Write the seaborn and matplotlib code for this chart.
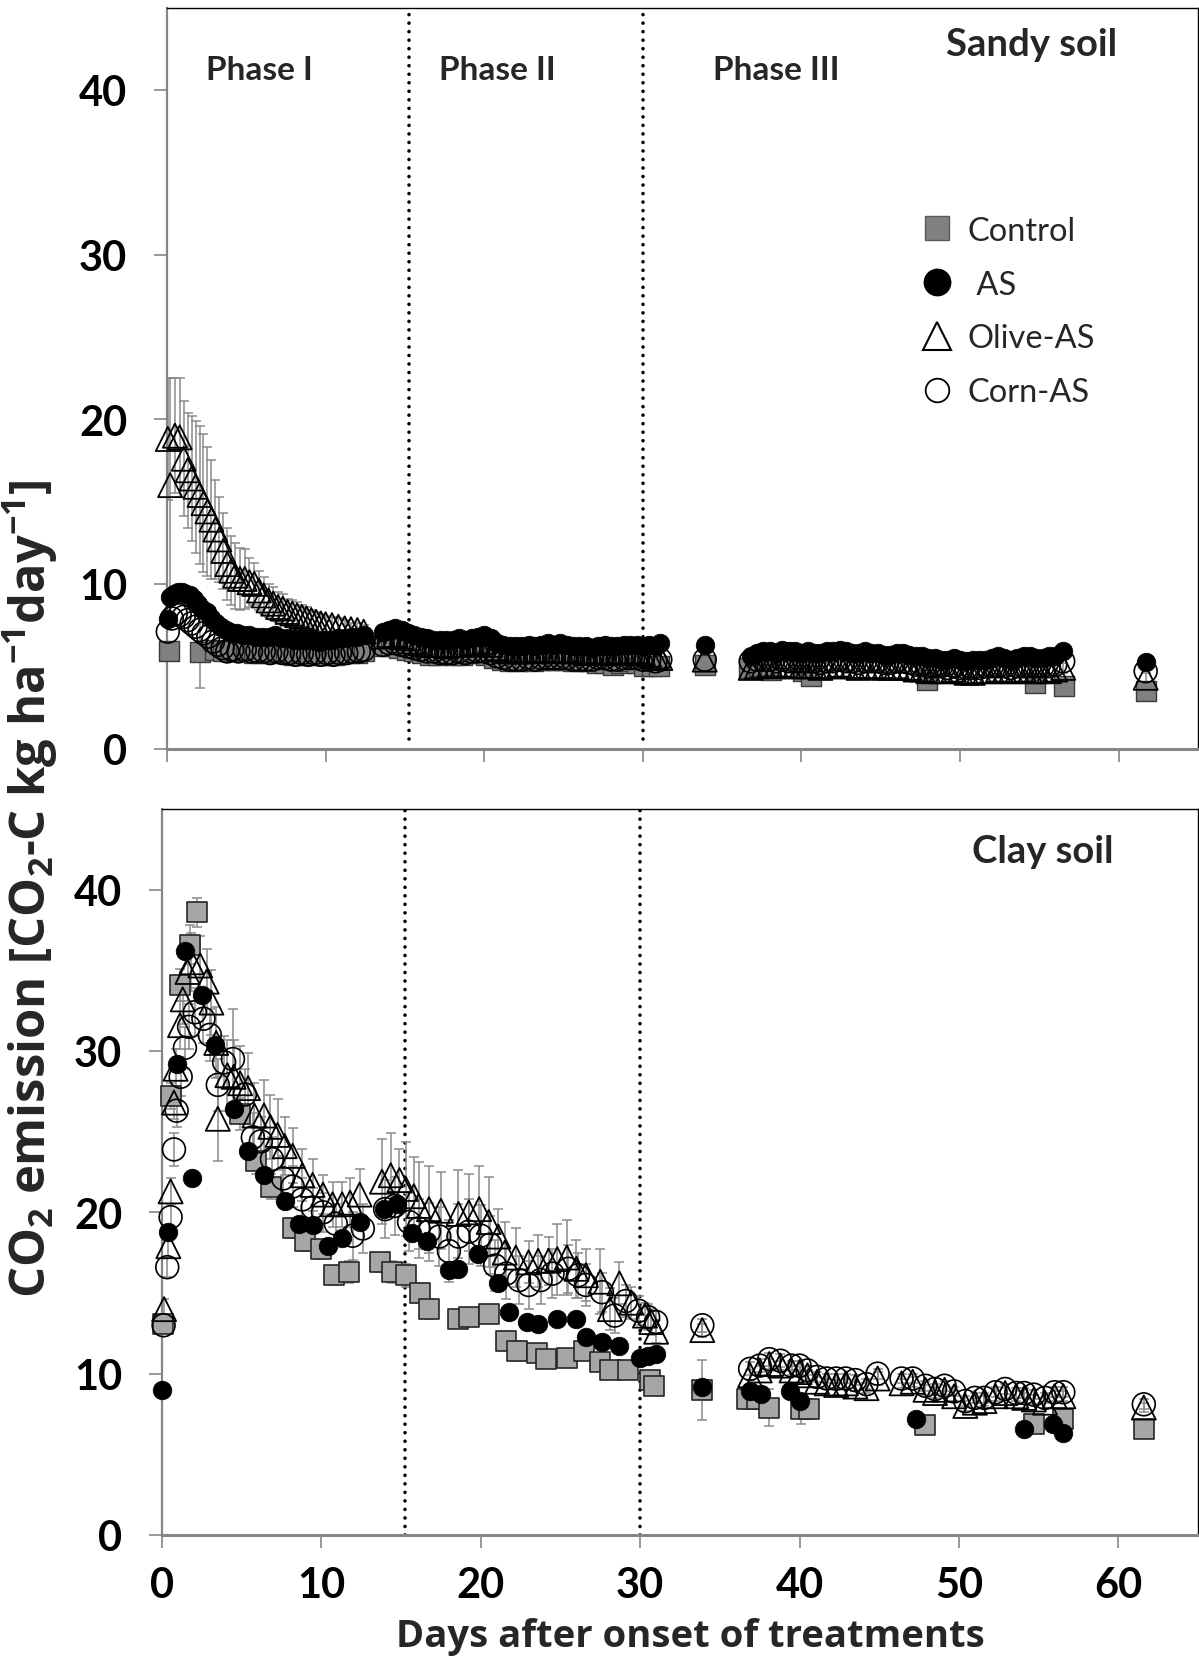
import numpy as np
import pandas as pd
import matplotlib
matplotlib.use("Agg")
import matplotlib.pyplot as plt
from matplotlib.lines import Line2D
import seaborn as sns

# ---------------- data ----------------
x_ticks = [0, 10, 20, 30, 40, 50, 60]
y_ticks = [0, 10, 20, 30, 40]
phase_bounds = [15.25, 30.0]
phase_names = ["Phase I", "Phase II", "Phase III"]
phase_label_x = [5.8, 20.8, 38.4]
series_names = ["Control", "AS", "Olive-AS", "Corn-AS"]

# ---- Sandy soil ----
sandy_control_t = [0.1, 2.1, 3.0, 3.5, 4.0, 4.5, 5.0, 5.5, 6.0, 6.5, 7.0, 7.5, 8.0, 8.5, 9.0, 9.5, 10.0, 10.5, 11.0, 11.5, 12.0, 12.4,
                   13.6, 14.1, 14.6, 15.1, 15.6, 16.1, 16.6, 17.1, 17.6, 18.1, 18.6, 19.1, 19.6, 20.1, 20.6, 21.1, 21.6, 22.1,
                   22.6, 23.1, 23.6, 24.1, 24.6, 25.1, 25.6, 26.1, 26.6, 27.1, 27.6, 28.1, 28.6, 29.1, 29.6, 30.1, 30.6, 31.0,
                   33.9, 36.7, 37.3, 38.1, 40.1, 40.6, 47.9, 54.7, 56.55, 61.7]
sandy_control_y = [5.9, 5.85, 6.0, 5.9, 5.9, 6.0, 5.9, 5.8, 5.8, 5.9, 5.8, 5.8, 5.7, 5.7, 5.7, 5.7, 5.7, 5.7, 5.8, 5.8, 5.8, 5.9,
                   6.2, 6.2, 6.1, 6.0, 5.9, 5.8, 5.7, 5.7, 5.8, 5.7, 5.7, 5.8, 5.8, 5.7, 5.5, 5.4, 5.3, 5.3,
                   5.4, 5.3, 5.4, 5.4, 5.4, 5.4, 5.3, 5.3, 5.3, 5.2, 5.2, 5.1, 5.2, 5.3, 5.2, 5.0, 5.0, 5.0,
                   5.1, 4.9, 5.0, 4.8, 4.7, 4.4, 4.15, 4.0, 3.8, 3.5]
sandy_control_err = [0.4, 2.2, 0.4, 0.3, 0.3, 0.3, 0.3, 0.3, 0.3, 0.3, 0.3, 0.3, 0.3, 0.3, 0.3, 0.3, 0.3, 0.3, 0.3, 0.3, 0.3, 0.3,
                     0.3, 0.3, 0.3, 0.3, 0.3, 0.3, 0.3, 0.3, 0.3, 0.3, 0.3, 0.3, 0.3, 0.3, 0.3, 0.3, 0.3, 0.3,
                     0.3, 0.3, 0.3, 0.3, 0.3, 0.3, 0.3, 0.3, 0.3, 0.3, 0.3, 0.3, 0.3, 0.3, 0.3, 0.3, 0.3, 0.3,
                     0.4, 0.3, 0.3, 0.3, 0.3, 0.3, 0.2, 0.2, 0.3, 0.2]

sandy_t_p2 = [13.6, 14.0, 14.4, 14.8, 15.2, 15.6, 16.0, 16.4, 16.8, 17.2, 17.6, 18.0, 18.4, 18.8, 19.2,
              19.6, 20.0, 20.4, 20.8, 21.2, 21.6, 22.0, 22.4, 22.8, 23.2, 23.6, 24.0, 24.4, 24.8, 25.2,
              25.6, 26.0, 26.4, 26.8, 27.2, 27.6, 28.0, 28.4, 28.8, 29.2, 29.6, 30.0, 30.4, 30.8, 31.1]
sandy_t_p3 = [33.9, 36.8, 37.2, 37.6, 38.0, 38.4, 38.8, 39.2, 39.6, 40.0, 40.4, 40.8, 41.2, 41.6, 42.0, 42.4,
              42.8, 43.2, 43.6, 44.0, 44.4, 44.8, 45.2, 45.6, 46.0, 46.4, 46.8, 47.2, 47.6, 48.0, 48.4,
              48.8, 49.2, 49.6, 50.0, 50.4, 50.8, 51.2, 51.6, 52.0, 52.4, 52.8, 53.2, 53.6, 54.0, 54.4,
              54.8, 55.2, 55.6, 56.0, 56.5, 61.7]

sandy_as_t_p1 = [0.05, 0.2, 0.45, 0.7, 0.95, 1.2, 1.45, 1.7, 1.95, 2.2, 2.5, 2.8, 3.1, 3.4, 3.7, 4.0, 4.4, 4.8, 5.2,
                 5.6, 6.0, 6.4, 6.8, 7.2, 7.6, 8.0, 8.4, 8.8, 9.2, 9.6, 10.0, 10.4, 10.8, 11.2, 11.6, 12.0, 12.4]
sandy_as_y_p1 = [7.85, 9.2, 9.4, 9.5, 9.5, 9.4, 9.3, 9.1, 8.8, 8.5, 8.3, 7.9, 7.6, 7.4, 7.2, 7.1, 7.0, 6.9, 6.9,
                 6.8, 6.8, 6.8, 6.9, 6.7, 6.7, 6.6, 6.6, 6.6, 6.6, 6.5, 6.6, 6.6, 6.7, 6.7, 6.8, 6.8, 6.9]
sandy_as_y_p2 = [7.1, 7.2, 7.3, 7.2, 7.0, 6.9, 6.8, 6.7, 6.6, 6.6, 6.6, 6.6, 6.7, 6.6, 6.7,
                 6.8, 6.9, 6.7, 6.4, 6.3, 6.2, 6.2, 6.2, 6.3, 6.2, 6.3, 6.4, 6.3, 6.4, 6.3,
                 6.2, 6.2, 6.2, 6.1, 6.2, 6.3, 6.2, 6.2, 6.3, 6.3, 6.3, 6.2, 6.3, 6.2, 6.4]
sandy_as_y_p3 = [6.3, 5.6, 5.8, 5.9, 5.9, 5.8, 6.0, 5.9, 5.9, 5.8, 5.9, 5.8, 5.8, 5.9, 5.9, 6.0,
                 5.9, 5.8, 5.8, 5.9, 5.8, 5.8, 5.7, 5.7, 5.8, 5.8, 5.7, 5.6, 5.6, 5.5, 5.5,
                 5.4, 5.4, 5.5, 5.4, 5.3, 5.4, 5.4, 5.4, 5.5, 5.6, 5.5, 5.4, 5.5, 5.6, 5.6,
                 5.5, 5.5, 5.6, 5.6, 5.9, 5.25]

sandy_olive_t_p1 = [0.05, 0.2, 0.5, 0.8, 1.05, 1.3, 1.55, 1.8, 2.05, 2.3, 2.55, 2.8, 3.05, 3.3, 3.55,
                    3.8, 4.05, 4.3, 4.6, 4.9, 5.2, 5.5, 5.8, 6.1, 6.4, 6.7, 7.0, 7.3, 7.6, 7.9,
                    8.2, 8.5, 8.8, 9.1, 9.4, 9.7, 10.0, 10.4, 10.8, 11.2, 11.6, 12.0, 12.4]
sandy_olive_y_p1 = [18.8, 16.0, 19.0, 18.9, 17.6, 16.9, 16.4, 15.9, 15.4, 14.9, 14.4, 13.9, 13.3, 12.7, 12.0,
                    11.2, 10.8, 10.5, 10.3, 10.3, 10.1, 10.0, 9.6, 9.3, 9.0, 8.8, 8.6, 8.5, 8.3, 8.2,
                    8.1, 8.0, 7.9, 7.8, 7.7, 7.6, 7.55, 7.5, 7.4, 7.3, 7.25, 7.2, 7.1]
sandy_olive_err_p1 = [3.7, 6.5, 3.5, 3.6, 3.5, 3.5, 3.8, 4.0, 4.2, 4.2, 3.9, 3.6, 3.0, 2.6, 2.3,
                      2.2, 2.1, 2.0, 1.9, 1.8, 1.5, 1.3, 1.2, 1.1, 1.0, 1.0, 0.9, 0.9, 0.8, 0.8,
                      0.8, 0.7, 0.7, 0.6, 0.6, 0.6, 0.5, 0.5, 0.5, 0.5, 0.4, 0.4, 0.4]
sandy_olive_y_p2 = [6.8, 6.9, 6.9, 6.8, 6.7, 6.5, 6.4, 6.3, 6.3, 6.3, 6.2, 6.3, 6.3, 6.3, 6.4,
                    6.4, 6.5, 6.3, 6.1, 6.0, 5.9, 5.9, 5.9, 6.0, 5.9, 6.0, 6.0, 5.9, 6.0, 6.0,
                    5.9, 5.9, 5.8, 5.8, 5.9, 5.9, 5.8, 5.8, 5.9, 5.9, 5.9, 5.8, 5.7, 5.6, 5.5]
sandy_olive_err_p2 = [0.5, 0.5, 0.5, 0.5, 0.45, 0.45, 0.45, 0.45, 0.45, 0.45, 0.45, 0.45, 0.45, 0.45, 0.45,
                      0.45, 0.45, 0.45, 0.45, 0.45, 0.45, 0.45, 0.45, 0.45, 0.45, 0.45, 0.45, 0.45, 0.45, 0.45,
                      0.4, 0.4, 0.4, 0.4, 0.4, 0.4, 0.4, 0.4, 0.4, 0.4, 0.4, 0.4, 0.4, 0.4, 0.4]
sandy_olive_y_p3 = [5.4, 4.9, 5.0, 5.0, 5.1, 5.0, 5.1, 5.0, 5.0, 5.0, 5.0, 5.0, 4.9, 5.0, 5.0, 5.1,
                    5.0, 5.0, 4.9, 5.0, 5.0, 5.0, 4.9, 4.9, 5.0, 4.9, 4.9, 4.8, 4.8, 4.7, 4.7,
                    4.7, 4.7, 4.8, 4.7, 4.6, 4.6, 4.7, 4.7, 4.7, 4.8, 4.7, 4.7, 4.7, 4.8, 4.7,
                    4.7, 4.7, 4.7, 4.8, 4.9, 4.3]
sandy_olive_err_p3 = [0.3, 0.3, 0.3, 0.3, 0.3, 0.3, 0.3, 0.3, 0.3, 0.3, 0.3, 0.3, 0.3, 0.3, 0.3, 0.3,
                      0.3, 0.3, 0.3, 0.3, 0.3, 0.3, 0.3, 0.3, 0.3, 0.3, 0.3, 0.3, 0.3, 0.3, 0.3,
                      0.3, 0.3, 0.3, 0.3, 0.3, 0.3, 0.3, 0.3, 0.3, 0.3, 0.3, 0.3, 0.3, 0.3, 0.3,
                      0.3, 0.3, 0.3, 0.3, 0.3, 0.3]

sandy_corn_t_p1 = [0.05, 0.3, 0.55, 0.8, 1.05, 1.3, 1.55, 1.8, 2.05, 2.3, 2.6, 2.9, 3.2, 3.5, 3.8, 4.1, 4.5, 4.9, 5.3,
                   5.7, 6.1, 6.5, 6.9, 7.3, 7.7, 8.1, 8.5, 8.9, 9.3, 9.7, 10.1, 10.5, 10.9, 11.3, 11.7, 12.1, 12.4]
sandy_corn_y_p1 = [7.1, 7.9, 8.2, 8.1, 8.0, 7.8, 7.6, 7.4, 7.2, 7.0, 6.8, 6.5, 6.3, 6.1, 5.9, 6.0, 5.9, 6.0, 5.9,
                   5.9, 5.9, 5.8, 5.9, 5.8, 5.8, 5.7, 5.8, 5.7, 5.8, 5.7, 5.8, 5.7, 5.8, 5.8, 5.9, 5.9, 6.0]
sandy_corn_y_p2 = [6.3, 6.4, 6.4, 6.3, 6.2, 6.1, 6.0, 5.9, 5.9, 5.8, 5.8, 5.8, 5.9, 5.8, 5.9,
                   5.9, 5.9, 5.8, 5.6, 5.5, 5.4, 5.4, 5.4, 5.5, 5.4, 5.5, 5.5, 5.5, 5.5, 5.5,
                   5.4, 5.4, 5.4, 5.4, 5.5, 5.5, 5.4, 5.4, 5.5, 5.5, 5.5, 5.4, 5.4, 5.3, 5.4]
sandy_corn_y_p3 = [5.4, 5.3, 5.4, 5.4, 5.4, 5.3, 5.4, 5.3, 5.3, 5.3, 5.3, 5.3, 5.2, 5.3, 5.3, 5.4,
                   5.3, 5.3, 5.2, 5.3, 5.3, 5.3, 5.2, 5.2, 5.3, 5.3, 5.2, 5.1, 5.1, 5.0, 5.0,
                   5.0, 4.9, 5.0, 4.9, 4.9, 4.9, 4.9, 5.0, 5.0, 5.0, 5.0, 4.9, 5.0, 5.0, 5.0,
                   5.0, 5.0, 5.0, 5.1, 5.3, 4.7]

# ---- Clay soil ----
clay_control_t = [0.08, 0.54, 1.12, 1.75, 2.17, 4.9, 5.9, 6.85, 8.2, 9.0,
                  10.0, 10.8, 11.75, 13.7, 14.4, 15.3, 16.2, 16.75, 18.6, 19.25,
                  20.5, 21.6, 22.3, 23.5, 24.1, 25.4, 26.5, 27.5, 28.1, 29.25,
                  30.6, 30.9, 33.9, 36.7, 37.3, 38.1, 40.1, 40.6, 47.9, 54.7,
                  56.55, 61.6]
clay_control_y = [13.1, 27.2, 34.1, 36.6, 38.6, 26.1, 23.2, 21.6, 19.0, 18.2,
                  17.7, 16.1, 16.3, 16.9, 16.3, 16.1, 15.0, 14.0, 13.4, 13.5,
                  13.7, 12.05, 11.4, 11.3, 10.9, 11.0, 11.4, 10.7, 10.2, 10.2,
                  9.6, 9.25, 9.0, 8.4, 8.4, 7.9, 7.8, 7.8, 6.8, 6.9,
                  7.2, 6.55]
clay_control_err = [0.5, 0.8, 1.0, 1.2, 0.9, 1.0, 0.8, 0.8, 0.6, 0.6,
                    0.6, 0.6, 0.7, 0.6, 0.7, 0.7, 0.6, 0.6, 0.5, 0.5,
                    0.5, 0.6, 0.6, 0.5, 0.5, 0.5, 0.5, 0.5, 0.5, 0.5,
                    0.5, 0.6, 1.85, 0.6, 0.6, 1.15, 0.9, 0.6, 0.3, 0.3,
                    0.3, 0.2]

clay_as_t = [0.0, 0.4, 0.96, 1.44, 1.9, 2.5, 3.3, 4.5, 5.4, 6.4,
             7.7, 8.6, 9.45, 10.4, 11.3, 12.4, 13.9, 14.75, 15.7, 16.6,
             18.0, 18.6, 19.8, 21.1, 21.75, 22.9, 23.6, 24.8, 26.0, 26.6,
             27.6, 28.7, 30.0, 30.5, 31.0, 33.9, 36.9, 37.6, 39.4, 40.0,
             47.3, 54.1, 55.9, 56.5]
clay_as_y = [9.0, 18.8, 29.2, 36.2, 22.1, 33.5, 30.4, 26.4, 23.8, 22.3,
             20.7, 19.3, 19.2, 17.9, 18.4, 19.4, 20.2, 20.5, 18.7, 18.25,
             16.4, 16.5, 17.4, 15.6, 13.85, 13.2, 13.1, 13.4, 13.4, 12.25,
             11.95, 11.7, 11.0, 11.1, 11.2, 9.2, 8.95, 8.75, 8.95, 8.3,
             7.2, 6.6, 6.9, 6.3]

clay_olive_t = [0.13, 0.4, 0.54, 0.75, 0.85, 1.13, 1.3, 1.6, 1.85, 2.4,
                2.8, 3.1, 3.4, 3.5, 4.1, 4.5, 4.9, 5.4, 5.8, 6.4,
                6.8, 7.25, 7.7, 8.2, 8.8, 9.45, 10.1, 10.7, 11.3, 11.8,
                12.4, 13.8, 14.35, 14.9, 15.3, 15.8, 16.1, 16.75, 17.5, 18.6,
                19.25, 19.9, 20.5, 21.1, 21.5, 22.2, 23.0, 23.6, 24.25, 24.8,
                25.4, 26.0, 26.6, 27.5, 28.1, 28.7, 29.45, 30.3, 30.7, 31.0,
                33.9, 36.9, 37.5, 38.1, 38.8, 39.5, 40.0, 40.5, 41.1, 41.7,
                42.3, 42.9, 43.5, 44.2, 44.9, 46.4, 47.1, 47.9, 48.5, 49.1,
                49.7, 50.4, 51.0, 51.6, 52.3, 52.9, 53.6, 54.1, 54.7, 55.4,
                56.0, 56.55, 61.6]
clay_olive_y = [14.0, 17.9, 21.3, 26.8, 28.9, 31.6, 33.2, 34.9, 35.5, 35.3,
                34.3, 33.0, 30.5, 25.8, 28.5, 28.4, 28.0, 27.7, 26.0, 26.0,
                25.3, 24.8, 24.1, 23.5, 22.3, 21.7, 21.1, 20.5, 20.5, 20.6,
                21.1, 21.9, 22.3, 22.0, 21.45, 21.0, 20.4, 20.2, 20.1, 19.9,
                20.0, 20.2, 19.4, 18.5, 17.5, 17.2, 16.9, 17.0, 17.0, 17.1,
                17.2, 16.5, 16.1, 15.7, 14.0, 15.6, 14.4, 13.6, 13.2, 12.6,
                12.7, 9.9, 10.2, 10.6, 10.5, 10.2, 10.1, 9.9, 9.5, 9.4,
                9.3, 9.4, 9.2, 9.1, 9.7, 9.4, 9.5, 9.0, 8.8, 9.0,
                8.6, 8.0, 8.2, 8.3, 8.6, 8.8, 8.6, 8.5, 8.4, 8.2,
                8.6, 8.6, 7.9]
clay_olive_err = [0.6, 0.7, 0.8, 1.0, 1.2, 1.5, 1.5, 1.8, 1.8, 1.8,
                  2.0, 2.0, 2.2, 2.6, 2.2, 2.3, 2.3, 2.2, 2.0, 2.2,
                  2.0, 2.2, 1.8, 1.7, 1.6, 1.6, 1.2, 1.4, 1.4, 1.5,
                  1.6, 2.65, 2.6, 1.9, 2.9, 2.4, 2.7, 2.7, 2.4, 2.7,
                  2.4, 2.7, 2.8, 1.7, 1.9, 1.8, 1.3, 1.6, 1.5, 2.2,
                  2.3, 1.8, 1.6, 2.0, 1.3, 1.3, 1.0, 0.8, 0.8, 0.7,
                  0.4, 0.3, 0.3, 0.3, 0.3, 0.3, 0.3, 0.3, 0.3, 0.3,
                  0.3, 0.3, 0.3, 0.3, 0.4, 0.3, 0.3, 0.3, 0.3, 0.3,
                  0.3, 0.3, 0.3, 0.3, 0.3, 0.3, 0.3, 0.3, 0.3, 0.3,
                  0.3, 0.3, 0.3]

clay_corn_t = [0.1, 0.33, 0.54, 0.75, 0.92, 1.17, 1.44, 1.7, 2.06, 2.6,
               3.0, 3.5, 3.9, 4.45, 5.2, 5.7, 6.2, 6.9, 7.6, 8.2,
               8.8, 9.45, 10.1, 10.9, 11.96, 12.6, 14.0, 14.6, 15.5, 16.1,
               16.75, 17.4, 18.0, 18.6, 19.25, 20.0, 20.6, 20.9, 21.6, 22.4,
               23.0, 23.75, 24.5, 25.5, 26.1, 26.6, 27.6, 28.4, 29.1, 29.9,
               30.5, 31.0, 33.9, 36.9, 37.5, 38.1, 38.8, 39.5, 40.0, 40.5,
               41.1, 41.7, 42.3, 42.9, 43.5, 44.2, 44.9, 46.4, 47.1, 47.9,
               48.5, 49.1, 49.7, 50.4, 51.0, 51.6, 52.3, 52.9, 53.6, 54.1,
               54.7, 55.4, 56.0, 56.55, 61.6]
clay_corn_y = [13.0, 16.6, 19.7, 23.9, 26.3, 28.4, 30.2, 31.5, 32.4, 32.0,
               31.0, 27.9, 29.3, 29.5, 27.3, 24.65, 24.4, 23.3, 22.1, 21.6,
               20.8, 20.3, 20.0, 19.3, 18.55, 19.0, 20.2, 20.4, 19.4, 19.0,
               18.8, 18.5, 17.6, 18.5, 18.8, 18.55, 18.0, 16.7, 16.2, 15.8,
               15.5, 15.8, 16.2, 16.5, 16.1, 15.5, 15.05, 13.6, 14.5, 13.9,
               13.5, 13.2, 13.0, 10.3, 10.5, 10.9, 10.8, 10.5, 10.5, 10.2,
               9.8, 9.7, 9.7, 9.7, 9.6, 9.35, 10.0, 9.7, 9.7, 9.25,
               9.05, 9.25, 8.9, 8.3, 8.5, 8.5, 8.85, 9.05, 8.8, 8.8,
               8.7, 8.5, 8.85, 8.85, 8.1]
clay_corn_err = [0.5, 0.6, 0.8, 1.0, 1.0, 1.2, 1.3, 1.4, 1.5, 1.5,
                 1.6, 1.6, 1.6, 3.1, 1.6, 1.5, 1.5, 1.4, 1.4, 1.3,
                 1.3, 1.2, 1.2, 1.2, 1.5, 1.5, 1.8, 1.8, 1.8, 1.8,
                 1.8, 1.8, 1.9, 2.0, 2.0, 1.9, 1.8, 1.6, 1.6, 1.5,
                 1.5, 1.5, 1.5, 1.5, 1.4, 1.3, 1.2, 1.1, 1.0, 0.9,
                 0.8, 0.7, 0.4, 0.4, 0.4, 0.4, 0.4, 0.3, 0.3, 0.3,
                 0.3, 0.3, 0.3, 0.3, 0.3, 0.3, 0.3, 0.3, 0.3, 0.3,
                 0.3, 0.3, 0.3, 0.3, 0.3, 0.3, 0.3, 0.3, 0.3, 0.3,
                 0.3, 0.3, 0.3, 0.3, 0.3]

# ---------------- style ----------------
sns.set_theme(style="white")
plt.rcParams["font.family"] = ["Lato", "DejaVu Sans"]
plt.rcParams["font.weight"] = "bold"
plt.rcParams["mathtext.fontset"] = "custom"
plt.rcParams["mathtext.rm"] = "Open Sans:bold"
plt.rcParams["mathtext.bf"] = "Open Sans:bold"
plt.rcParams["mathtext.it"] = "Open Sans:bold:italic"
plt.rcParams["mathtext.default"] = "rm"

STYLE = {
    "Control_top": dict(marker="s", s=200, fc="#808080", ec="#3a3a3a", lw=1.0, z=3),
    "Control_bot": dict(marker="s", s=200, fc="#a6a6a6", ec="#262626", lw=1.2, z=3),
    "AS": dict(marker="o", s=180, fc="black", ec="black", lw=0.5, z=4),
    "Olive-AS": dict(marker="^", s=300, fc="none", ec="black", lw=1.3, z=5),
    "Corn-AS": dict(marker="o", s=270, fc="none", ec="black", lw=1.2, z=6),
}
ERR_COLOR = "#8a8a8a"
AXIS_GREY = "#868686"


def draw_series(ax, t, y, err, key):
    st = STYLE[key]
    if err is not None:
        ax.errorbar(t, y, yerr=err, fmt="none", ecolor=ERR_COLOR, elinewidth=1.1,
                    capsize=3.6, capthick=1.1, zorder=1)
    df = pd.DataFrame({"t": t, "y": y})
    sns.scatterplot(data=df, x="t", y="y", ax=ax, marker=st["marker"], s=st["s"],
                    facecolor=st["fc"], edgecolor=st["ec"], linewidth=st["lw"],
                    zorder=st["z"], legend=False, clip_on=False)


fig = plt.figure(figsize=(11.99, 16.58), dpi=100)
ax1 = fig.add_axes([167 / 1199, 1 - 749.6 / 1658, 1031 / 1199, 741.1 / 1658])
ax2 = fig.add_axes([162 / 1199, 1 - 1536 / 1658, 1036 / 1199, 726 / 1658])

# ---- top panel: sandy soil ----
draw_series(ax1, sandy_control_t, sandy_control_y, sandy_control_err, "Control_top")
draw_series(ax1, sandy_as_t_p1 + sandy_t_p2 + sandy_t_p3,
            sandy_as_y_p1 + sandy_as_y_p2 + sandy_as_y_p3, None, "AS")
draw_series(ax1, sandy_olive_t_p1 + sandy_t_p2 + sandy_t_p3,
            sandy_olive_y_p1 + sandy_olive_y_p2 + sandy_olive_y_p3,
            sandy_olive_err_p1 + sandy_olive_err_p2 + sandy_olive_err_p3, "Olive-AS")
draw_series(ax1, sandy_corn_t_p1 + sandy_t_p2 + sandy_t_p3,
            sandy_corn_y_p1 + sandy_corn_y_p2 + sandy_corn_y_p3, None, "Corn-AS")

# ---- bottom panel: clay soil ----
draw_series(ax2, clay_control_t, clay_control_y, clay_control_err, "Control_bot")
draw_series(ax2, clay_as_t, clay_as_y, None, "AS")
draw_series(ax2, clay_olive_t, clay_olive_y, clay_olive_err, "Olive-AS")
draw_series(ax2, clay_corn_t, clay_corn_y, clay_corn_err, "Corn-AS")

for ax, ymin_frac in ((ax1, 0.6 / 45), (ax2, 0.0)):
    ax.set_xlim(0, 65)
    ax.set_ylim(0, 45)
    ax.set_xticks(x_ticks)
    ax.set_yticks(y_ticks)
    ax.set_xlabel("")
    ax.set_ylabel("")
    for side in ("top", "right"):
        ax.spines[side].set_color("black")
        ax.spines[side].set_linewidth(1.0)
    ax.spines["left"].set_color(AXIS_GREY)
    ax.spines["left"].set_linewidth(1.6)
    ax.spines["bottom"].set_color(AXIS_GREY)
    ax.spines["bottom"].set_linewidth(2.2)
    ax.tick_params(axis="both", which="major", direction="out", length=9.5, width=1.2,
                   color=AXIS_GREY, labelsize=30, left=True, bottom=True, top=False, right=False,
                   labelcolor="black")
    ax.tick_params(axis="y", pad=19)
    ax.tick_params(axis="x", pad=13)
    for xb in phase_bounds:
        ax.axvline(xb, ymin=ymin_frac, ymax=1, color="black", linewidth=2.6,
                   linestyle=(0, (0.01, 2.35)), dash_capstyle="round", zorder=0.5)

ax1.tick_params(axis="x", labelbottom=False)

for name, xp in zip(phase_names, phase_label_x):
    ax1.text(xp, 41.25, name, ha="center", va="center", fontsize=24, fontweight="bold")
ax1.text(54.5, 42.8, "Sandy soil", ha="center", va="center", fontsize=27.5, fontweight="bold")
ax2.text(55.25, 42.4, "Clay soil", ha="center", va="center", fontsize=27.5, fontweight="bold")

handles = [
    Line2D([], [], ls="none", marker="s", ms=17, mfc="#808080", mec="#595959", mew=1.0),
    Line2D([], [], ls="none", marker="o", ms=19, mfc="black", mec="black"),
    Line2D([], [], ls="none", marker="^", ms=20, mfc="none", mec="black", mew=1.5),
    Line2D([], [], ls="none", marker="o", ms=17, mfc="none", mec="black", mew=1.3),
]
labels = ["Control", " AS", "Olive-AS", "Corn-AS"]
ax1.legend(handles, labels, loc="upper left", bbox_to_anchor=(0.731, 0.719), frameon=False,
           borderpad=0, borderaxespad=0, handlelength=1.0, handletextpad=0.45,
           labelspacing=0.73, prop={"size": 23.5, "weight": "normal"})

ax2.set_xlabel("Days after onset of treatments", fontsize=27.5, fontweight="bold",
               family=["Open Sans", "DejaVu Sans"])
ax2.xaxis.set_label_coords((690 - 162) / 1036, -(1637 - 1536) / 726)
ax2.xaxis.label.set_va("center")

fig.text(30 / 1199, 1 - 889 / 1658,
         r"CO$_{2}$ emission [CO$_{2}$-C kg ha$^{-1}$day$^{-1}$]",
         rotation=90, ha="center", va="center", fontsize=35.2, fontweight="bold",
         family=["Open Sans", "DejaVu Sans"])

fig.savefig("out.png", dpi=100)
